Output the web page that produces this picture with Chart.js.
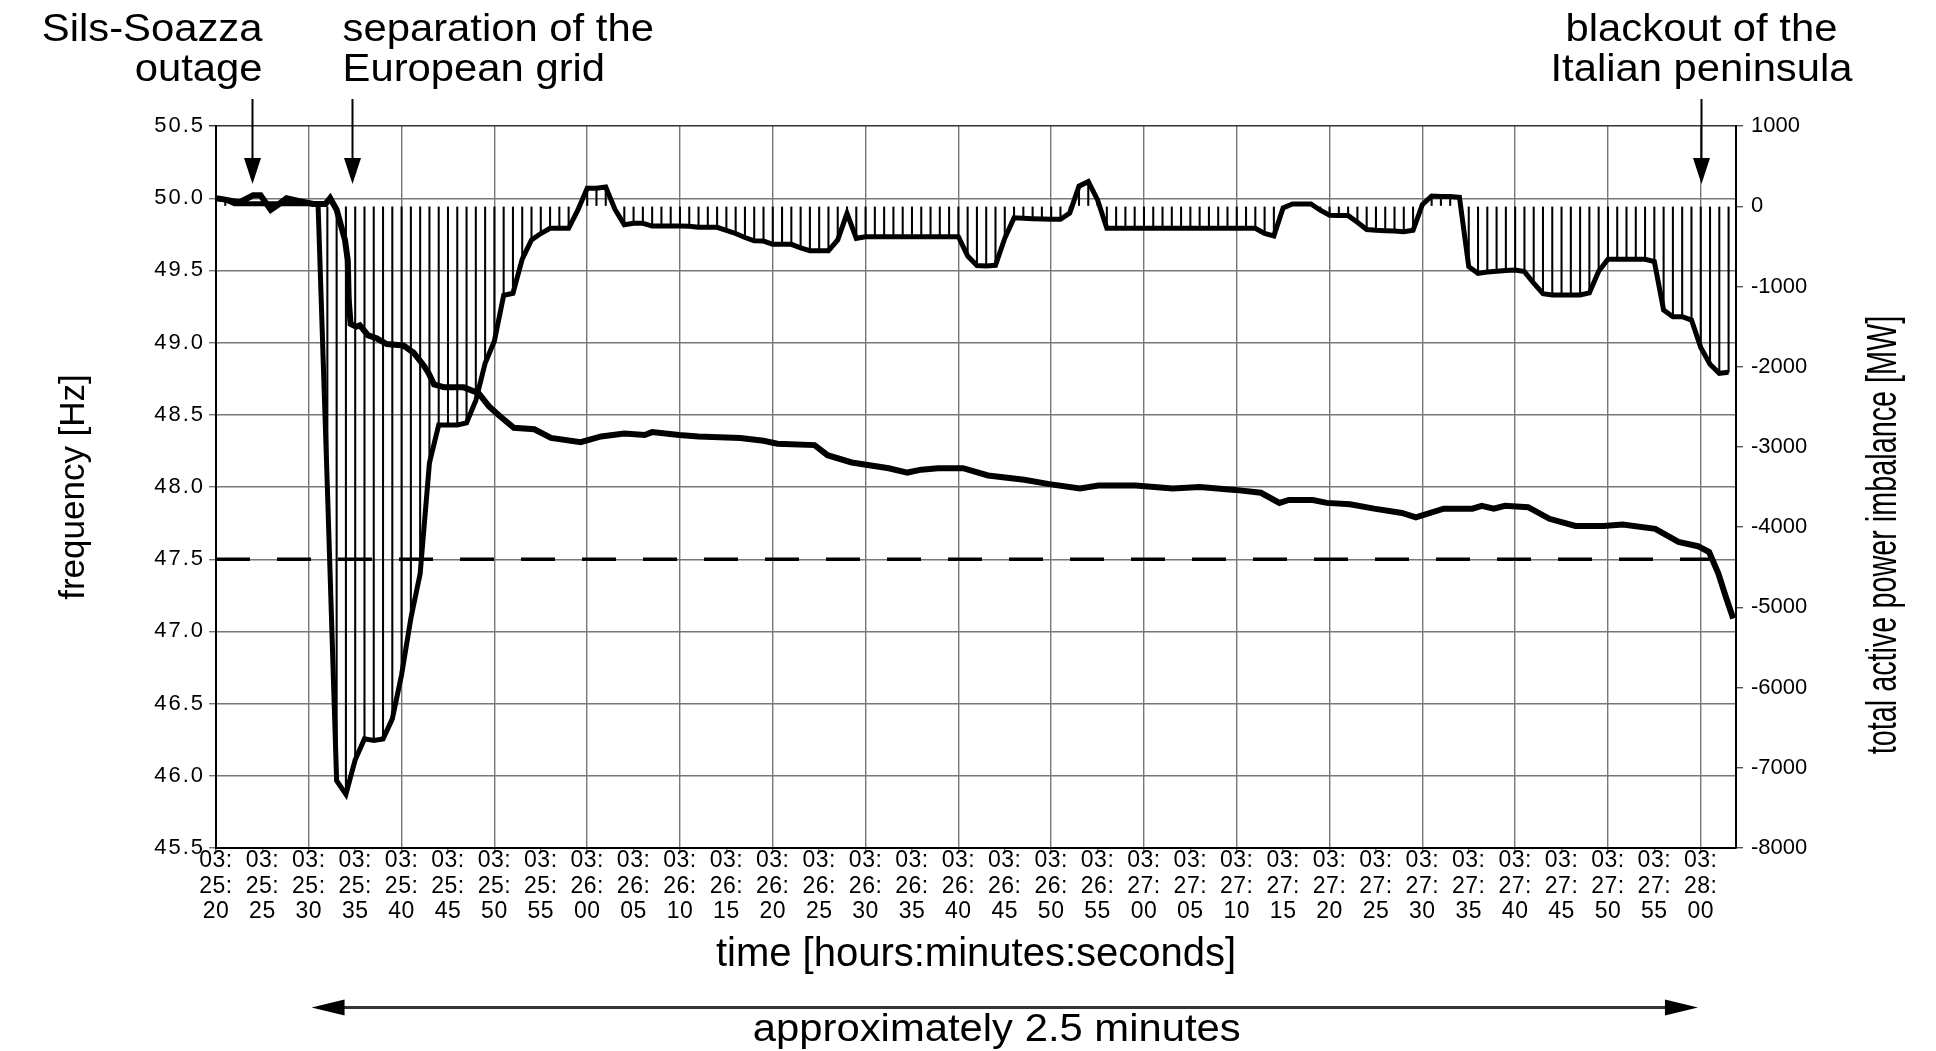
<!DOCTYPE html>
<html>
<head>
<meta charset="utf-8">
<script src="https://cdn.jsdelivr.net/npm/chart.js@4.4.1/dist/chart.umd.min.js"></script>
<style>
  html, body { margin: 0; padding: 0; background: #fff; }
  canvas { display: block; background: #fff; }
</style>
</head>
<body>
<canvas id="gridChart" width="1936" height="1051"></canvas>
<script>
// x axis: seconds after 03:25:20
const timeLabels = [
  '03:25:20', '03:25:25', '03:25:30', '03:25:35', '03:25:40', '03:25:45', '03:25:50', '03:25:55',
  '03:26:00', '03:26:05', '03:26:10', '03:26:15', '03:26:20', '03:26:25', '03:26:30', '03:26:35',
  '03:26:40', '03:26:45', '03:26:50', '03:26:55', '03:27:00', '03:27:05', '03:27:10', '03:27:15',
  '03:27:20', '03:27:25', '03:27:30', '03:27:35', '03:27:40', '03:27:45', '03:27:50', '03:27:55',
  '03:28:00'
];
const xMaxSec = 163.8;

// frequency [Hz]
const freqSec = [0, 1, 2.5, 4, 4.8, 5.9, 6.8, 7.6, 9, 10.5,
  11.8, 12.3, 13, 13.9, 14.2, 14.3, 14.5, 15.1, 15.5, 16.4,
  17.3, 18.4, 20.2, 21.3, 22.4, 22.9, 23.5, 24.6, 26.7, 28.3,
  29.4, 30.6, 32.1, 34.3, 36.1, 39.3, 41.5, 44, 46.2, 47,
  49.9, 52, 56.5, 59, 60.5, 64.5, 65.9, 68.5, 72.5, 74.5,
  76, 77.8, 80.5, 83.2, 87.1, 89.8, 93.1, 95.1, 99.1, 103.1,
  106, 109.8, 112.6, 114.6, 115.6, 118.2, 119.7, 122.2, 124.8, 127.8,
  129.3, 132.3, 135.4, 136.4, 137.7, 138.9, 141.4, 143.7, 146.5, 149.5,
  151.6, 155.1, 157.6, 159.7, 160.9, 161.9, 162.7, 163.5];
const freqHz = [50.00, 49.99, 49.97, 50.02, 50.02, 49.92, 49.96, 50.00, 49.98, 49.96,
  49.96, 50.00, 49.92, 49.71, 49.57, 49.30, 49.13, 49.11, 49.12, 49.05,
  49.03, 48.99, 48.98, 48.93, 48.84, 48.79, 48.71, 48.69, 48.69, 48.65,
  48.56, 48.49, 48.41, 48.40, 48.34, 48.31, 48.35, 48.37, 48.36, 48.38,
  48.36, 48.35, 48.34, 48.32, 48.30, 48.29, 48.22, 48.17, 48.13, 48.10,
  48.12, 48.13, 48.13, 48.08, 48.05, 48.02, 47.99, 48.01, 48.01, 47.99,
  48.00, 47.98, 47.96, 47.89, 47.91, 47.91, 47.89, 47.88, 47.85, 47.82,
  47.79, 47.85, 47.85, 47.87, 47.85, 47.87, 47.86, 47.78, 47.73, 47.73,
  47.74, 47.71, 47.62, 47.59, 47.55, 47.40, 47.24, 47.09];

// total active power imbalance [MW], one sample per second (index = seconds)
const powerMW = [
  100, 80, 30, 30, 30, 30, 30, 30, 30, 30,
  30, 20, -3500, -7160, -7330, -6900, -6640, -6660, -6640, -6390,
  -5840, -5137, -4580, -3200, -2727, -2727, -2727, -2700, -2420, -1958,
  -1680, -1110, -1085, -660, -421, -340, -275, -275, -275, -47,
  223, 223, 240, -40, -230, -213, -213, -247, -247, -247,
  -247, -250, -263, -263, -263, -300, -340, -390, -432, -434,
  -475, -475, -475, -520, -554, -554, -554, -420, -90, -400,
  -380, -380, -380, -380, -380, -380, -380, -380, -380, -380,
  -380, -620, -740, -745, -737, -400, -145, -150, -155, -160,
  -163, -163, -85, 250, 306, 78, -275, -275, -275, -275,
  -275, -275, -275, -275, -275, -275, -275, -275, -275, -275,
  -275, -275, -275, -340, -370, -20, 28, 28, 28, -50,
  -113, -115, -117, -200, -290, -300, -305, -310, -317, -300,
  20, 128, 120, 120, 110, -754, -837, -820, -810, -800,
  -795, -815, -960, -1090, -1107, -1107, -1107, -1107, -1080, -810,
  -662, -662, -662, -662, -662, -690, -1294, -1377, -1377, -1419,
  -1760, -1970, -2083, -2070
];

const thresholdHz = 47.5;

// annotations
const eventSec = [3.9, 14.65, 160];
const eventNotes = [
  ['Sils-Soazza', 'outage'],
  ['separation of the', 'European grid'],
  ['blackout of the', 'Italian peninsula']
];
const spanSec = [10.3, 159.7];
const spanNote = 'approximately 2.5 minutes';
const rightTitle = 'total active power imbalance [MW]';

const FONT = "'Liberation Sans', Arial, Helvetica, sans-serif";
Chart.defaults.font.family = FONT;
Chart.defaults.color = '#000';

const freqPoints = freqSec.map((s, i) => ({ x: s, y: freqHz[i] }));
const powerPoints = powerMW.map((v, i) => ({ x: i, y: v }));

// letter spacing for tick labels (chart.js has no option for it)
function spacedLabels(px) {
  return function (scale) {
    if (scale._spaced) return;
    scale._spaced = true;
    const orig = scale.drawLabels.bind(scale);
    scale.drawLabels = (area) => {
      const c = scale.ctx;
      c.save();
      c.letterSpacing = px;
      orig(area);
      c.restore();
    };
  };
}

function wideText(ctx, text, x, y, size, align, sx) {
  ctx.save();
  ctx.translate(x, y);
  ctx.scale(sx, 1);
  ctx.font = size + 'px ' + FONT;
  ctx.textAlign = align;
  ctx.textBaseline = 'alphabetic';
  ctx.fillText(text, 0, 0);
  ctx.restore();
}

const overlay = {
  id: 'overlay',
  afterDraw(chart) {
    const { ctx, chartArea, scales: { x } } = chart;
    ctx.save();
    ctx.fillStyle = '#000';
    ctx.strokeStyle = '#000';

    // event arrows + notes
    const aligns = ['right', 'left', 'center'];
    eventSec.forEach((t, i) => {
      const px = Math.round(x.getPixelForValue(t)) + 0.5;
      ctx.lineWidth = 2;
      ctx.beginPath();
      ctx.moveTo(px, 99);
      ctx.lineTo(px, 162);
      ctx.stroke();
      ctx.beginPath();
      ctx.moveTo(px - 8.5, 158);
      ctx.lineTo(px + 8.5, 158);
      ctx.lineTo(px, 184);
      ctx.closePath();
      ctx.fill();
      const a = aligns[i];
      const ax = a === 'right' ? px + 10 : a === 'left' ? px - 10 : px;
      eventNotes[i].forEach((line, k) => wideText(ctx, line, ax, 41 + k * 40, 38, a, 1.1));
    });

    // span arrow at the bottom
    const x0 = x.getPixelForValue(spanSec[0]);
    const x1 = x.getPixelForValue(spanSec[1]);
    const ay = 1007.5;
    ctx.strokeStyle = '#333';
    ctx.lineWidth = 3;
    ctx.beginPath();
    ctx.moveTo(x0 + 30, ay);
    ctx.lineTo(x1 - 30, ay);
    ctx.stroke();
    ctx.beginPath();
    ctx.moveTo(x0, ay);
    ctx.lineTo(x0 + 33, ay - 8);
    ctx.lineTo(x0 + 33, ay + 8);
    ctx.closePath();
    ctx.fill();
    ctx.beginPath();
    ctx.moveTo(x1, ay);
    ctx.lineTo(x1 - 33, ay - 8);
    ctx.lineTo(x1 - 33, ay + 8);
    ctx.closePath();
    ctx.fill();
    wideText(ctx, spanNote, (x0 + x1) / 2 - 8, 1041, 38, 'center', 1.1);

    // right axis title, reading bottom to top
    ctx.save();
    ctx.translate(chartArea.right + 148, 535);
    ctx.rotate(-Math.PI / 2);
    ctx.scale(0.9, 1.35);
    ctx.font = '32px ' + FONT;
    ctx.textAlign = 'center';
    ctx.textBaseline = 'middle';
    ctx.fillText(rightTitle, 0, 0);
    ctx.restore();

    ctx.restore();
  }
};

const ctx = document.getElementById('gridChart').getContext('2d');
const gridChart = new Chart(ctx, {
  type: 'line',
  data: {
    datasets: [
      {
        label: 'frequency',
        data: freqPoints,
        yAxisID: 'y',
        borderColor: '#000',
        borderWidth: 6,
        pointRadius: 0,
        tension: 0,
        order: 0
      },
      {
        label: 'power imbalance',
        data: powerPoints,
        yAxisID: 'y2',
        borderColor: '#000',
        borderWidth: 5,
        pointRadius: 0,
        tension: 0,
        order: 1
      },
      {
        label: 'threshold',
        data: [{ x: 0, y: thresholdHz }, { x: xMaxSec, y: thresholdHz }],
        yAxisID: 'y',
        borderColor: '#000',
        borderWidth: 3.5,
        borderDash: [34, 27],
        pointRadius: 0,
        order: 2
      },
      {
        type: 'bar',
        label: 'hatch',
        data: powerPoints,
        yAxisID: 'y2',
        backgroundColor: '#000',
        barThickness: 1.4,
        order: 3
      }
    ]
  },
  options: {
    responsive: false,
    devicePixelRatio: 1,
    animation: false,
    layout: { padding: { top: 126, left: 0, right: 0, bottom: 0 } },
    plugins: {
      legend: { display: false },
      tooltip: { enabled: false }
    },
    scales: {
      x: {
        type: 'linear',
        min: 0,
        max: xMaxSec,
        offset: false,
        afterBuildTicks: (scale) => {
          scale.ticks = timeLabels.map((l, i) => ({ value: i * 5 }));
        },
        afterFit: (scale) => { scale.height = 203; },
        afterUpdate: spacedLabels('0.5px'),
        ticks: {
          autoSkip: false,
          maxRotation: 0,
          minRotation: 0,
          padding: -5,
          font: { size: 23, lineHeight: 1.11 },
          callback: (v) => {
            const lbl = timeLabels[Math.round(v / 5)];
            return lbl ? lbl.split(/(?<=:)/) : '';
          }
        },
        grid: {
          offset: false,
          color: (c) => (c.tick && c.tick.value % 10 === 0 ? '#777' : 'rgba(0,0,0,0)'),
          tickColor: '#777',
          tickLength: 5,
          lineWidth: 1.4
        },
        border: { color: '#000', width: 2 },
        title: {
          display: true,
          text: 'time [hours:minutes:seconds]',
          font: { size: 40 },
          padding: { top: 0, bottom: 72 }
        }
      },
      y: {
        position: 'left',
        min: 45.5,
        max: 50.5,
        afterFit: (scale) => { scale.width = 216; },
        afterUpdate: spacedLabels('2px'),
        ticks: {
          stepSize: 0.5,
          padding: 4,
          font: { size: 22 },
          callback: (v) => v.toFixed(1)
        },
        grid: {
          color: (c) => (c.tick && c.tick.value === 50.5 ? '#333' : '#777'),
          lineWidth: 1.4,
          tickLength: 7
        },
        border: { color: '#000', width: 2 },
        title: {
          display: true,
          text: 'frequency [Hz]',
          font: { size: 35 },
          padding: { top: 53, bottom: 0 }
        }
      },
      y2: {
        position: 'right',
        min: -8000,
        max: 1000,
        afterFit: (scale) => { scale.width = 200; },
        ticks: {
          stepSize: 1000,
          padding: 8,
          font: { size: 22 },
          callback: (v) => String(v)
        },
        grid: { drawOnChartArea: false, color: '#555', tickLength: 7, lineWidth: 1.4 },
        border: { color: '#000', width: 2 }
      }
    }
  },
  plugins: [overlay]
});
</script>
</body>
</html>
